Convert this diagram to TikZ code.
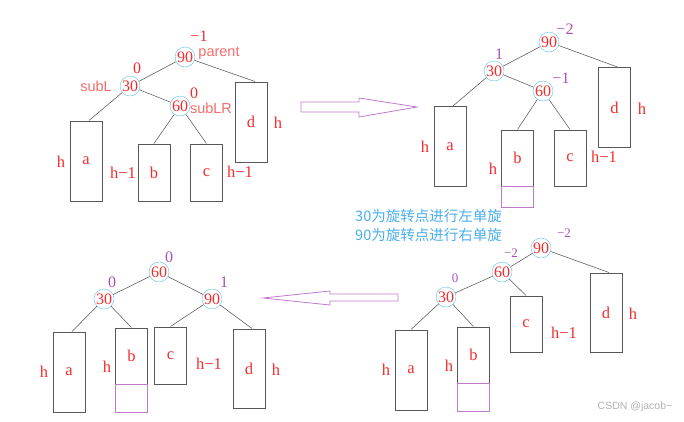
\documentclass[tikz,border=0pt]{standalone}
\usepackage{fontspec}
\setmainfont{Liberation Serif}
\newfontfamily\labelfont{Liberation Sans}
\newfontfamily\cjkfont{Noto Sans CJK SC}
\definecolor{keyred}{HTML}{F42C2C}
\definecolor{tagpink}{HTML}{F46C6C}
\definecolor{balpurple}{HTML}{A452B4}
\definecolor{ringblue}{HTML}{56C0EE}
\definecolor{notblue}{HTML}{4AAEEE}
\definecolor{boxgray}{HTML}{585858}
\definecolor{arrowpurple}{HTML}{C07ACC}
\tikzset{
	keynode/.style={circle, draw=ringblue, inner sep=0pt, minimum size=20pt, text=keyred, font=\fontsize{16}{16}\selectfont},
	subtree/.style={draw=boxgray, line width=1pt, inner sep=0pt, minimum width=32pt, minimum height=#1, text=keyred, font=\fontsize{16.5}{16.5}\selectfont},
	extra/.style={draw=arrowpurple, line width=0.8pt, inner sep=0pt, minimum width=32pt, minimum height=#1},
	hlabel/.style={text=keyred, inner sep=0pt, font=\fontsize{16.5}{16.5}\selectfont},
	bf/.style={text=balpurple, inner sep=0pt, font=\fontsize{16}{16}\selectfont},
	tag/.style={text=tagpink, inner sep=0pt, font=\labelfont\fontsize{14.5}{14.5}\selectfont},
	link/.style={draw=boxgray, line width=0.55pt},
	bigarrow/.style={draw=arrowpurple, line width=0.8pt, line join=miter}
}
\begin{document}
\begin{tikzpicture}[x=1pt, y=-1pt]
	\useasboundingbox (0,0) rectangle (684,421);
	% before: insertion into b/c of 60
	\begin{scope}
		\node[keynode] (p1k90) at (185,57) {90};
		\node[keynode] (p1k30) at (130,86) {30};
		\node[keynode] (p1k60) at (180,106) {60};
		\node[subtree=80pt] (p1a) at (86,161) {a};
		\node[subtree=57pt] (p1b) at (154,172.5) {b};
		\node[subtree=57pt] (p1c) at (206.5,172.5) {c};
		\node[subtree=80pt] (p1d) at (251,122) {d};
		\draw[link] (p1k90) -- (p1k30);
		\draw[link] (p1k90) -- ([xshift=4pt]p1d.north);
		\draw[link] (p1k30) -- (p1k60);
		\draw[link] (p1k30) -- ([xshift=3pt]p1a.north);
		\draw[link] (p1k60) -- (p1b.north);
		\draw[link] (p1k60) -- (p1c.north);
		\node[bf, text=keyred] (p1f90) at (199,36) {−1};
		\node[bf, text=keyred] (p1f30) at (137,68) {0};
		\node[bf, text=keyred] (p1f60) at (194,93) {0};
		\node[tag] (p1parent) at (219,53) {parent};
		\node[tag] (p1subl) at (96,86) {subL};
		\node[tag] (p1sublr) at (211,108) {subLR};
		\node[hlabel] (p1ha) at (61,162) {h};
		\node[hlabel] (p1hb) at (123,173) {h−1};
		\node[hlabel] (p1hc) at (240,172) {h−1};
		\node[hlabel] (p1hd) at (278,123) {h};
	\end{scope}
	% after inserting below b
	\begin{scope}
		\node[keynode] (p2k90) at (549,42) {90};
		\node[keynode] (p2k30) at (494,71) {30};
		\node[keynode] (p2k60) at (543,91) {60};
		\node[subtree=80pt] (p2a) at (450,146.5) {a};
		\node[subtree=56pt] (p2b) at (517.5,158) {b};
		\node[extra=21pt] (p2bx) at (517.5,196.5) {};
		\node[subtree=56pt] (p2c) at (570,158) {c};
		\node[subtree=80pt] (p2d) at (614.5,107.5) {d};
		\draw[link] (p2k90) -- (p2k30);
		\draw[link] (p2k90) -- ([xshift=3pt]p2d.north);
		\draw[link] (p2k30) -- (p2k60);
		\draw[link] (p2k30) -- ([xshift=3pt]p2a.north);
		\draw[link] (p2k60) -- (p2b.north);
		\draw[link] (p2k60) -- (p2c.north);
		\node[bf] (p2f90) at (565,29) {−2};
		\node[bf] (p2f30) at (499,54) {1};
		\node[bf] (p2f60) at (561,78) {−1};
		\node[hlabel] (p2ha) at (425,147) {h};
		\node[hlabel] (p2hb) at (493,169) {h};
		\node[hlabel] (p2hc) at (604,157) {h−1};
		\node[hlabel] (p2hd) at (642,109) {h};
	\end{scope}
	\draw[bigarrow] (301,102) -- (359,102) -- (359,98) -- (417,107) -- (359,117) -- (359,112) -- (301,112) -- cycle;
	\node[text=notblue, anchor=west, inner sep=0pt, font=\cjkfont\fontsize{14.5}{14.5}\selectfont] (step1) at (355,216) {30为旋转点进行左单旋};
	\node[text=notblue, anchor=west, inner sep=0pt, font=\cjkfont\fontsize{14.5}{14.5}\selectfont] (step2) at (355,235) {90为旋转点进行右单旋};
	% after left rotation at 30
	\begin{scope}
		\node[keynode] (p4k90) at (541,248) {90};
		\node[keynode] (p4k60) at (502,272) {60};
		\node[keynode] (p4k30) at (446,297) {30};
		\node[subtree=80pt] (p4a) at (411,370) {a};
		\node[subtree=56pt] (p4b) at (473.5,355) {b};
		\node[extra=28pt] (p4bx) at (473.5,397) {};
		\node[subtree=56pt] (p4c) at (526,324) {c};
		\node[subtree=79pt] (p4d) at (606,312.5) {d};
		\draw[link] (p4k90) -- (p4k60);
		\draw[link] (p4k90) -- ([xshift=3pt]p4d.north);
		\draw[link] (p4k60) -- (p4k30);
		\draw[link] (p4k60) -- (p4c.north);
		\draw[link] (p4k30) -- (p4a.north);
		\draw[link] (p4k30) -- (p4b.north);
		\node[bf, font=\fontsize{13}{13}\selectfont] (p4f90) at (564,233) {−2};
		\node[bf, font=\fontsize{13}{13}\selectfont] (p4f60) at (511,253) {−2};
		\node[bf, font=\fontsize{13}{13}\selectfont] (p4f30) at (455,278) {0};
		\node[hlabel] (p4ha) at (386,370) {h};
		\node[hlabel] (p4hb) at (449,366) {h};
		\node[hlabel] (p4hc) at (564,333) {h−1};
		\node[hlabel] (p4hd) at (633,314) {h};
	\end{scope}
	\draw[bigarrow] (398,294) -- (330,294) -- (330,291) -- (263,298) -- (330,305) -- (330,301) -- (398,301) -- cycle;
	% after right rotation at 90
	\begin{scope}
		\node[keynode] (p3k60) at (159,272) {60};
		\node[keynode] (p3k30) at (104,299) {30};
		\node[keynode] (p3k90) at (212,299) {90};
		\node[subtree=80pt] (p3a) at (69,372) {a};
		\node[subtree=56pt] (p3b) at (131.5,356) {b};
		\node[extra=28pt] (p3bx) at (131.5,398) {};
		\node[subtree=57pt] (p3c) at (170.5,355.5) {c};
		\node[subtree=79pt] (p3d) at (249,368.5) {d};
		\draw[link] (p3k60) -- (p3k30);
		\draw[link] (p3k60) -- (p3k90);
		\draw[link] (p3k30) -- ([xshift=3pt]p3a.north);
		\draw[link] (p3k30) -- (p3b.north);
		\draw[link] (p3k90) -- (p3c.north);
		\draw[link] (p3k90) -- ([xshift=3pt]p3d.north);
		\node[bf] (p3f60) at (169,257) {0};
		\node[bf] (p3f30) at (112,282) {0};
		\node[bf] (p3f90) at (224,282) {1};
		\node[hlabel] (p3ha) at (44,372) {h};
		\node[hlabel] (p3hb) at (107,367) {h};
		\node[hlabel] (p3hc) at (209,364) {h−1};
		\node[hlabel] (p3hd) at (276,370) {h};
	\end{scope}
	\node[text=gray!60, inner sep=0pt, font=\labelfont\fontsize{10.5}{10.5}\selectfont] (mark) at (635,407) {CSDN @jacob\textasciitilde};
\end{tikzpicture}
\end{document}
